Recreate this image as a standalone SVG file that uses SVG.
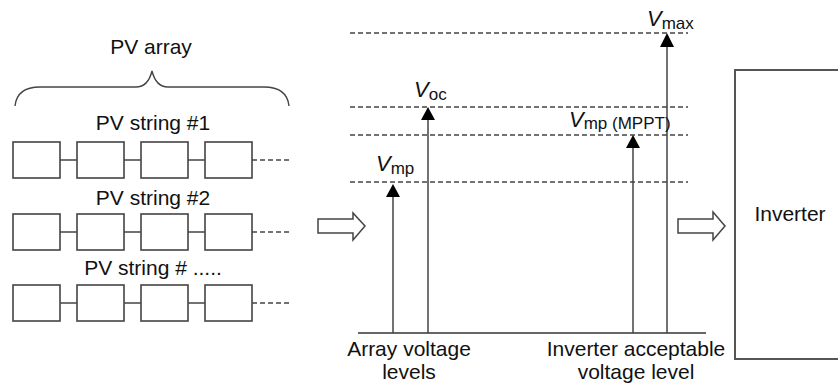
<svg xmlns="http://www.w3.org/2000/svg" width="838" height="385" viewBox="0 0 838 385">
<style>
text{font-family:"Liberation Sans",Arial,sans-serif;fill:#111;}
.lbl{font-size:21px;}
.v{font-size:22px;font-style:italic;}
.sub{font-size:17px;}
.box{fill:#fff;stroke:#444;stroke-width:1.6;}
.wire{stroke:#444;stroke-width:1.4;fill:none;}
.dash{stroke:#444;stroke-width:1.6;stroke-dasharray:5,3;fill:none;}
.vline{stroke:#444;stroke-width:1.5;fill:none;}
.base{stroke:#666;stroke-width:2;fill:none;}
.hollow{fill:#fff;stroke:#444;stroke-width:1.5;stroke-linejoin:miter;}
.head{fill:#000;}
</style>
<defs>
<g id="module-string">
<rect class="box" x="13" y="0" width="47" height="36"/>
<rect class="box" x="77" y="0" width="47" height="36"/>
<rect class="box" x="141" y="0" width="47" height="36"/>
<rect class="box" x="205" y="0" width="47" height="36"/>
<path class="wire" d="M60,18H77M124,18H141M188,18H205"/>
<path class="dash" d="M252,18H290"/>
</g>
</defs>

<g id="pv-array">
<text class="lbl" x="151" y="54" text-anchor="middle">PV array</text>
<path class="wire" stroke-width="1.6" d="M15,106 Q17,87 40,87 L136,87 Q148,87 152,71 Q156,87 168,87 L264,87 Q287,87 289,106"/>
</g>

<g id="pv-string-1">
<text class="lbl" x="153" y="130" text-anchor="middle">PV string #1</text>
<use href="#module-string" y="142"/>
</g>
<g id="pv-string-2">
<text class="lbl" x="153" y="205" text-anchor="middle">PV string #2</text>
<use href="#module-string" y="214"/>
</g>
<g id="pv-string-n">
<text class="lbl" x="153" y="275" text-anchor="middle">PV string # .....</text>
<use href="#module-string" y="285"/>
</g>

<g id="voltage-chart">
<path class="dash" d="M350,33H688M350,107H688M350,135H688M350,182H688"/>
<path class="base" d="M358,333H706"/>
<path class="vline" d="M393,333V195M428,333V118M633,333V146M667,333V46"/>
<path class="head" d="M393,184L386,197H400Z"/>
<path class="head" d="M428,107L421,120H435Z"/>
<path class="head" d="M633,135L626,148H640Z"/>
<path class="head" d="M667,33L660,47H674Z"/>
<text x="376" y="171"><tspan class="v">V</tspan><tspan class="sub" dy="3">mp</tspan></text>
<text x="414" y="97"><tspan class="v">V</tspan><tspan class="sub" dy="3">oc</tspan></text>
<text x="569" y="127"><tspan class="v">V</tspan><tspan class="sub" dy="2">mp (MPPT)</tspan></text>
<text x="647" y="26"><tspan class="v">V</tspan><tspan class="sub" dy="3">max</tspan></text>
<text class="lbl" x="409" y="356" text-anchor="middle">Array voltage</text>
<text class="lbl" x="409" y="379" text-anchor="middle">levels</text>
<text class="lbl" x="636" y="356" text-anchor="middle">Inverter acceptable</text>
<text class="lbl" x="636" y="379" text-anchor="middle">voltage level</text>
</g>

<g id="inverter">
<rect x="735" y="70" width="120" height="289" fill="#fff" stroke="#555" stroke-width="2"/>
<text class="lbl" x="790" y="221" text-anchor="middle">Inverter</text>
</g>

<g id="connectors">
<path class="hollow" d="M318,219H353V213L365,226L353,240V233H318Z"/>
<path class="hollow" d="M678,219H713V212L725,226L713,240V233H678Z"/>
</g>
</svg>
